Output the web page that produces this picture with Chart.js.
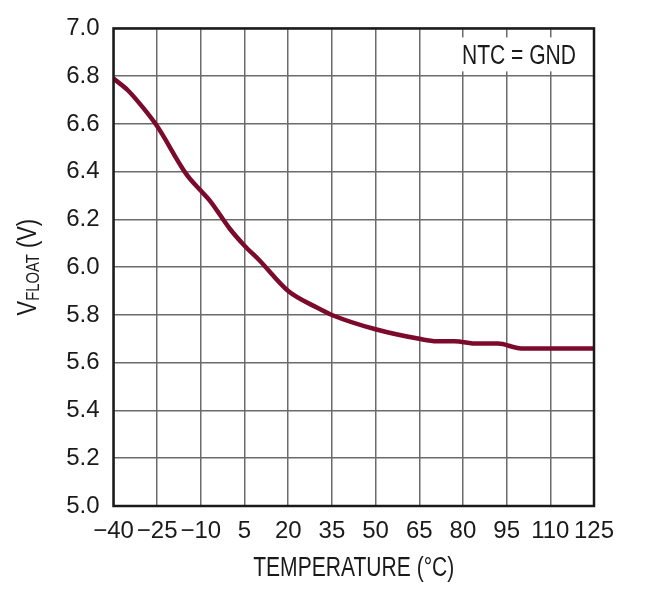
<!DOCTYPE html>
<html>
<head>
<meta charset="utf-8">
<script src="https://cdn.jsdelivr.net/npm/chart.js@4.4.1/dist/chart.umd.min.js"></script>
<style>
  html, body { margin: 0; padding: 0; background: #ffffff; }
  #wrap { width: 650px; height: 589px; }
</style>
</head>
<body>
<div id="wrap"><canvas id="c" width="650" height="589"></canvas></div>
<script>
// ---- data ----
const temperatureC = [-40, -35, -30, -25, -15, -10, -7, 0, 5, 10, 20, 30, 35, 50, 65, 71, 77, 85, 92, 100, 110, 125];
const vFloat = [6.79, 6.74, 6.67, 6.59, 6.39, 6.32, 6.28, 6.16, 6.09, 6.03, 5.90, 5.83, 5.80, 5.74, 5.70, 5.69, 5.69, 5.68, 5.68, 5.66, 5.66, 5.66];
const xTickValues = [-40, -25, -10, 5, 20, 35, 50, 65, 80, 95, 110, 125];
const yTickValues = [5.0, 5.2, 5.4, 5.6, 5.8, 6.0, 6.2, 6.4, 6.6, 6.8, 7.0];
const xTitle = 'TEMPERATURE (°C)';
const yTitleMain = 'V';
const yTitleSub = 'FLOAT';
const yTitleTail = ' (V)';
const noteText = 'NTC = GND';

const TICK_FONT = '"Liberation Sans", Arial, sans-serif';
const TITLE_FONT = '"Liberation Sans", Arial, sans-serif';
const SQUEEZE = 0.78; // horizontal condensing of title text

const points = temperatureC.map((t, i) => ({ x: t, y: vFloat[i] }));

const decor = {
  id: 'decor',
  beforeDatasetsDraw(chart) {
    const ctx = chart.ctx, a = chart.chartArea;
    ctx.save();
    ctx.font = '27px ' + TITLE_FONT;
    const w = ctx.measureText(noteText).width * SQUEEZE;
    const right = a.right - 18;
    const base = a.top + 36;
    ctx.fillStyle = '#ffffff';
    ctx.fillRect(right - w - 5, a.top + 9, w + 10, 34);
    ctx.fillStyle = '#1a1a1a';
    ctx.textAlign = 'right';
    ctx.textBaseline = 'alphabetic';
    ctx.translate(right, base);
    ctx.scale(SQUEEZE, 1);
    ctx.fillText(noteText, 0, 0);
    ctx.restore();
  },
  afterDraw(chart) {
    const ctx = chart.ctx, a = chart.chartArea;
    ctx.save();
    // frame
    ctx.strokeStyle = '#1a1a1a';
    ctx.lineWidth = 2.5;
    ctx.strokeRect(a.left, a.top, a.right - a.left, a.bottom - a.top);
    ctx.restore();

    // x title
    ctx.save();
    ctx.fillStyle = '#1a1a1a';
    ctx.font = '27px ' + TITLE_FONT;
    ctx.textAlign = 'center';
    ctx.textBaseline = 'alphabetic';
    ctx.translate((a.left + a.right) / 2, 576);
    ctx.scale(SQUEEZE, 1);
    ctx.fillText(xTitle, 0, 0);
    ctx.restore();

    // y title with subscript
    ctx.save();
    ctx.fillStyle = '#1a1a1a';
    const mainF = '28px ' + TITLE_FONT, subF = '19px ' + TITLE_FONT;
    ctx.font = mainF; const w1 = ctx.measureText(yTitleMain).width;
    const w3 = ctx.measureText(yTitleTail).width;
    ctx.font = subF; const w2 = ctx.measureText(yTitleSub).width;
    const total = w1 + w2 + w3;
    ctx.translate(36, (a.top + a.bottom) / 2);
    ctx.rotate(-Math.PI / 2);
    ctx.scale(SQUEEZE, 1);
    ctx.textAlign = 'left';
    ctx.textBaseline = 'alphabetic';
    let x = -total / 2;
    ctx.font = mainF; ctx.fillText(yTitleMain, x, 0); x += w1;
    ctx.font = subF; ctx.fillText(yTitleSub, x, 3); x += w2;
    ctx.font = mainF; ctx.fillText(yTitleTail, x, 0);
    ctx.restore();
  }
};

new Chart(document.getElementById('c'), {
  type: 'line',
  data: {
    datasets: [{
      data: points,
      borderColor: '#7c0a2c',
      borderWidth: 4.5,
      pointRadius: 0,
      fill: false,
      cubicInterpolationMode: 'monotone',
      borderCapStyle: 'butt',
      borderJoinStyle: 'round'
    }]
  },
  options: {
    responsive: false,
    animation: false,
    devicePixelRatio: 1,
    layout: { padding: { top: 27, right: 56, left: 0, bottom: 0 } },
    plugins: { legend: { display: false }, tooltip: { enabled: false } },
    scales: {
      x: {
        type: 'linear',
        min: -40, max: 125,
        afterFit(s) { s.height = 83; },
        afterBuildTicks(s) { s.ticks = xTickValues.map(v => ({ value: v })); },
        grid: { color: '#6b6b6b', lineWidth: 1.5, drawTicks: false },
        border: { display: false },
        ticks: {
          padding: 11,
          color: '#1a1a1a',
          font: { family: TICK_FONT, size: 24 },
          maxRotation: 0,
          autoSkip: false,
          callback: v => (v < 0 ? '\u2212' + Math.abs(v) : String(v))
        }
      },
      y: {
        type: 'linear',
        min: 5.0, max: 7.0,
        afterFit(s) { s.width = 113.5; },
        afterBuildTicks(s) { s.ticks = yTickValues.map(v => ({ value: v })); },
        grid: { color: '#6b6b6b', lineWidth: 1.5, drawTicks: false },
        border: { display: false },
        ticks: {
          padding: 14,
          color: '#1a1a1a',
          font: { family: TICK_FONT, size: 24 },
          autoSkip: false,
          callback: v => Number(v).toFixed(1)
        }
      }
    }
  },
  plugins: [decor]
});
</script>
</body>
</html>
